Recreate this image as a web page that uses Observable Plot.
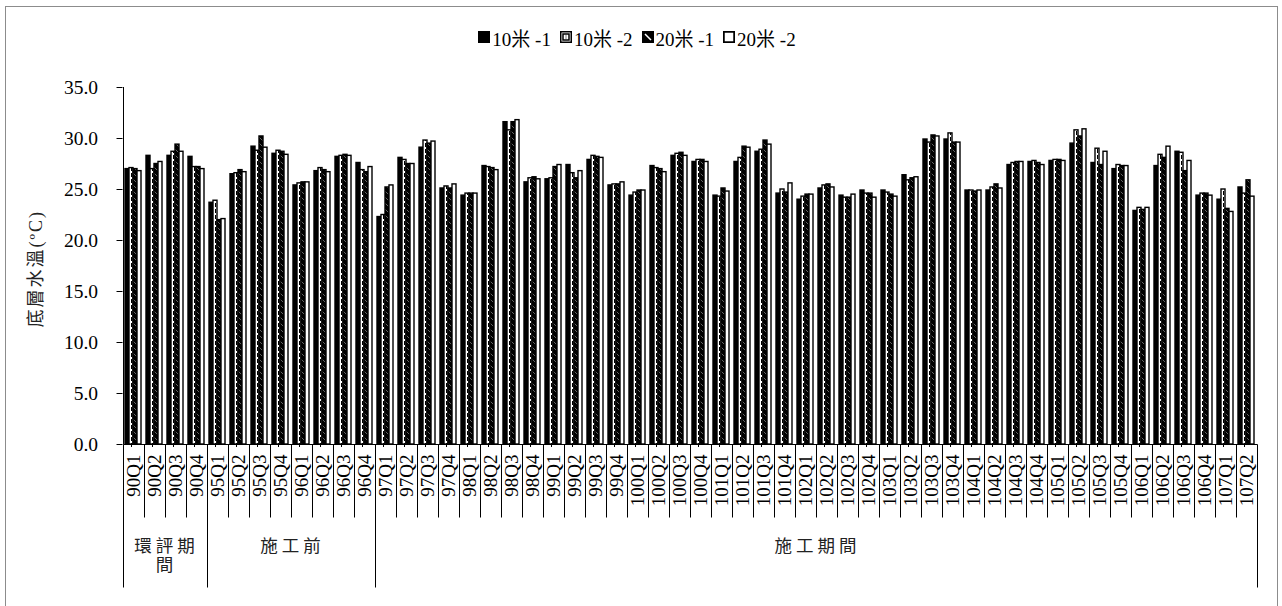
<!DOCTYPE html>
<html>
<head>
<meta charset="utf-8">
<script src="https://cdn.jsdelivr.net/npm/d3@7"></script>
<script src="https://cdn.jsdelivr.net/npm/@observablehq/plot@0.6"></script>
<style>
  html, body { margin: 0; padding: 0; background: #fff; }
  body { font-family: "Liberation Serif", "Noto Sans CJK TC", serif; color: #000; }
  #frame { position: absolute; left: 5px; top: 6px; width: 1273px; height: 612px; border: 1px solid #8c8c8c; box-sizing: border-box; }
  #legend { position: absolute; left: 0; top: 0; width: 1271px; height: 53px; display: flex; justify-content: center; align-items: center; padding-top: 7px; box-sizing: border-box; font-size: 19px; }
  #legend .item { display: inline-flex; align-items: center; margin-right: 9px; white-space: pre; }
  #legend svg { margin-right: 2px; }
  #chart { position: absolute; left: 0; top: 53px; }
</style>
</head>
<body>
<div id="frame">
  <div id="legend"></div>
  <div id="chart"></div>
</div>
<script>
// ---------- data ----------
const quarters = ["90Q1","90Q2","90Q3","90Q4","95Q1","95Q2","95Q3","95Q4","96Q1","96Q2","96Q3","96Q4",
  "97Q1","97Q2","97Q3","97Q4","98Q1","98Q2","98Q3","98Q4","99Q1","99Q2","99Q3","99Q4",
  "100Q1","100Q2","100Q3","100Q4","101Q1","101Q2","101Q3","101Q4","102Q1","102Q2","102Q3","102Q4",
  "103Q1","103Q2","103Q3","103Q4","104Q1","104Q2","104Q3","104Q4","105Q1","105Q2","105Q3","105Q4",
  "106Q1","106Q2","106Q3","106Q4","107Q1","107Q2"];

const seriesNames = ["10米 -1", "10米 -2", "20米 -1", "20米 -2"];

const s10m1 = [27.0,28.3,28.3,28.2,23.7,26.5,29.2,28.5,25.4,26.8,28.2,27.6,
  22.3,28.1,29.1,25.1,24.4,27.3,31.6,25.7,26.0,27.4,27.9,25.4,
  24.4,27.3,28.3,27.7,24.4,27.7,28.7,24.6,24.0,25.1,24.4,24.9,
  24.9,26.4,29.9,29.9,24.9,24.9,27.4,27.7,27.8,29.5,27.6,27.0,
  22.9,27.3,28.7,24.4,24.0,25.2];
const s10m2 = [27.1,27.0,28.7,27.2,23.9,26.6,28.8,28.8,25.6,27.1,28.3,26.9,
  22.5,27.9,29.8,25.3,24.6,27.2,30.8,26.1,26.1,26.6,28.3,25.5,
  24.7,27.1,28.5,27.9,24.3,28.1,28.9,25.0,24.3,25.4,24.2,24.6,
  24.7,25.9,29.6,30.5,24.9,25.2,27.6,27.8,27.9,30.8,29.0,27.4,
  23.2,28.4,28.6,24.6,25.0,24.6];
const s20m1 = [27.0,27.5,29.4,27.2,22.0,26.9,30.2,28.7,25.7,26.9,28.4,26.7,
  25.2,27.5,29.5,25.1,24.6,27.1,31.6,26.2,27.2,26.1,28.2,25.5,
  24.9,27.0,28.6,27.9,25.1,29.2,29.8,24.7,24.5,25.5,24.2,24.6,
  24.5,26.1,30.3,29.6,24.8,25.5,27.7,27.6,27.9,30.2,27.4,27.3,
  23.0,28.1,26.8,24.6,23.1,25.9];
const s20m2 = [26.8,27.7,28.7,27.0,22.1,26.7,29.1,28.4,25.7,26.7,28.3,27.2,
  25.4,27.5,29.7,25.5,24.6,26.9,31.8,26.0,27.4,26.8,28.1,25.7,
  24.9,26.7,28.3,27.7,24.8,29.1,29.4,25.6,24.5,25.2,24.5,24.2,
  24.3,26.2,30.2,29.6,24.9,25.1,27.7,27.4,27.8,30.9,28.7,27.3,
  23.2,29.2,27.8,24.4,22.8,24.3];

const yTicks = [0, 5, 10, 15, 20, 25, 30, 35];

const phaseNames = ["環評期間", "施工前", "施工期間"];
const phaseFirst = ["90Q1", "95Q1", "97Q1"];
const phaseLast  = ["90Q4", "96Q4", "107Q2"];

const yLabel = "底層水溫(ºC)";

// ---------- build ----------
const seriesValues = [s10m1, s10m2, s20m1, s20m2];
const rows = quarters.flatMap((q, i) => seriesNames.map((s, j) => ({q, s, v: seriesValues[j][i]})));
const bySeries = seriesNames.map(s => rows.filter(r => r.s === s));

const FONT = '"Liberation Serif", "Noto Sans CJK TC", serif';
const W = 1271, H = 547;
const mL = 116, mR = 19, mT = 27, mB = 163;
const padIn = 0.14;
const step = (W - mL - mR) / quarters.length;
const facetShift = step * padIn / 2;
const SW = 1.4;

const chart = Plot.plot({
  width: W, height: H,
  marginLeft: mL, marginRight: mR, marginTop: mT, marginBottom: mB,
  style: {fontFamily: FONT, fontSize: "19.5px", color: "#000", background: "none", overflow: "visible"},
  fx: {domain: quarters, paddingInner: padIn, paddingOuter: padIn / 2, label: null},
  x: {domain: seriesNames, padding: 0, axis: null},
  y: {domain: [0, 35], label: null},
  marks: [
    Plot.axisY({ticks: yTicks, tickFormat: d3.format(".1f"), tickSize: 6, tickPadding: 19, label: null, dx: -facetShift, stroke: "#000"}),
    Plot.axisFx({anchor: "bottom", tickRotate: -90, tickSize: 0, tickPadding: 10, label: null, fontSize: 19}),
    Plot.barY(bySeries[0], {fx: "q", x: "s", y: "v", fill: "#000", stroke: "#000", strokeWidth: SW, inset: 0}),
    Plot.barY(bySeries[1], {fx: "q", x: "s", y: "v", fill: "#fff", stroke: "#000", strokeWidth: SW, inset: 0}),
    Plot.ruleX(bySeries[1], {fx: "q", x: "s", y1: 0, y2: "v", insetTop: 3, stroke: "#000", strokeWidth: 1, strokeDasharray: "4,2"}),
    Plot.barY(bySeries[2], {fx: "q", x: "s", y: "v", fill: "url(#pat20a)", stroke: "#000", strokeWidth: SW, inset: 0}),
    Plot.barY(bySeries[3], {fx: "q", x: "s", y: "v", fill: "#fff", stroke: "#000", strokeWidth: SW, inset: 0})
  ]
});

const svg = d3.select(chart);
// pattern for 20米 -1 (dense diagonal hatch, mostly black)
const defs = svg.insert("defs", ":first-child");
const pat = defs.append("pattern").attr("id", "pat20a").attr("patternUnits", "userSpaceOnUse")
  .attr("width", 6).attr("height", 6);
pat.append("rect").attr("width", 6).attr("height", 6).attr("fill", "#000");
pat.append("path").attr("d", "M0,0L6,6").attr("stroke", "#fff").attr("stroke-width", 0.4);

document.getElementById("chart").appendChild(chart);

// axis lines + category separators drawn from the plot's own scales
const fx = chart.scale("fx"), y = chart.scale("y");
const gap = fx.step - fx.bandwidth;
const leftOf = q => fx.apply(q) - gap / 2;
const rightOf = q => fx.apply(q) + fx.bandwidth + gap / 2;
const y0 = Math.round(y.apply(0)) + 0.5;
const yTop = y.apply(35);
const xStart = Math.round(leftOf(quarters[0])) + 0.5;
const xEnd = Math.round(rightOf(quarters[quarters.length - 1])) + 0.5;
const g = svg.append("g").attr("stroke", "#000").attr("stroke-width", 1).attr("fill", "none");
g.append("line").attr("x1", xStart).attr("x2", xStart).attr("y1", yTop).attr("y2", y0);
g.append("line").attr("x1", xStart).attr("x2", xEnd).attr("y1", y0).attr("y2", y0);
const bounds = quarters.map(leftOf).concat([rightOf(quarters[quarters.length - 1])]);
const phaseBoundIdx = new Set(phaseFirst.map(q => quarters.indexOf(q)).concat([quarters.length]));
bounds.forEach((bx, i) => {
  const xx = Math.round(bx) + 0.5;
  g.append("line").attr("x1", xx).attr("x2", xx).attr("y1", y0)
    .attr("y2", y0 + (phaseBoundIdx.has(i) ? 143 : 73));
});

// phase labels
const lab = svg.append("g").attr("font-family", FONT).attr("font-size", 17.5).attr("fill", "#222")
  .attr("text-anchor", "middle").attr("letter-spacing", "4px");
phaseNames.forEach((name, k) => {
  const a = leftOf(phaseFirst[k]), b = rightOf(phaseLast[k]);
  const cx = (a + b) / 2 + 2;
  const perLine = Math.max(1, Math.floor((b - a - 6) / 21));
  const lines = [];
  for (let i = 0; i < name.length; i += perLine) lines.push(name.slice(i, i + perLine));
  lines.forEach((t, li) => {
    lab.append("text").attr("x", cx).attr("y", y0 + 101 + li * 19).attr("dominant-baseline", "central").text(t);
  });
});

// y axis title
svg.append("text").attr("font-family", FONT).attr("font-size", 18).attr("fill", "#222")
  .attr("text-anchor", "middle").attr("dominant-baseline", "central").attr("letter-spacing", "2px")
  .attr("transform", `translate(30,${(yTop + y0) / 2 + 3}) rotate(-90)`).text(yLabel);

// legend
const legend = d3.select("#legend");
seriesNames.forEach((s, i) => {
  const item = legend.append("span").attr("class", "item");
  const sw = item.append("svg").attr("width", 12).attr("height", 12);
  sw.append("rect").attr("x", 0.75).attr("y", 0.75).attr("width", 10.5).attr("height", 10.5)
    .attr("fill", i === 0 || i === 2 ? "#000" : "#fff").attr("stroke", "#000").attr("stroke-width", i === 3 ? 2 : 1.5);
  if (i === 1) {
    sw.append("rect").attr("x", 3).attr("y", 3).attr("width", 6).attr("height", 6).attr("fill", "none").attr("stroke", "#000").attr("stroke-width", 1.5);
    sw.append("line").attr("x1", 6).attr("x2", 6).attr("y1", 4.5).attr("y2", 8).attr("stroke", "#000").attr("stroke-dasharray", "1,1");
  }
  if (i === 2) {
    sw.append("path").attr("d", "M3,3L9,9").attr("stroke", "#fff").attr("stroke-width", 1.5);
  }
  item.append("span").text(s);
});
</script>
</body>
</html>
